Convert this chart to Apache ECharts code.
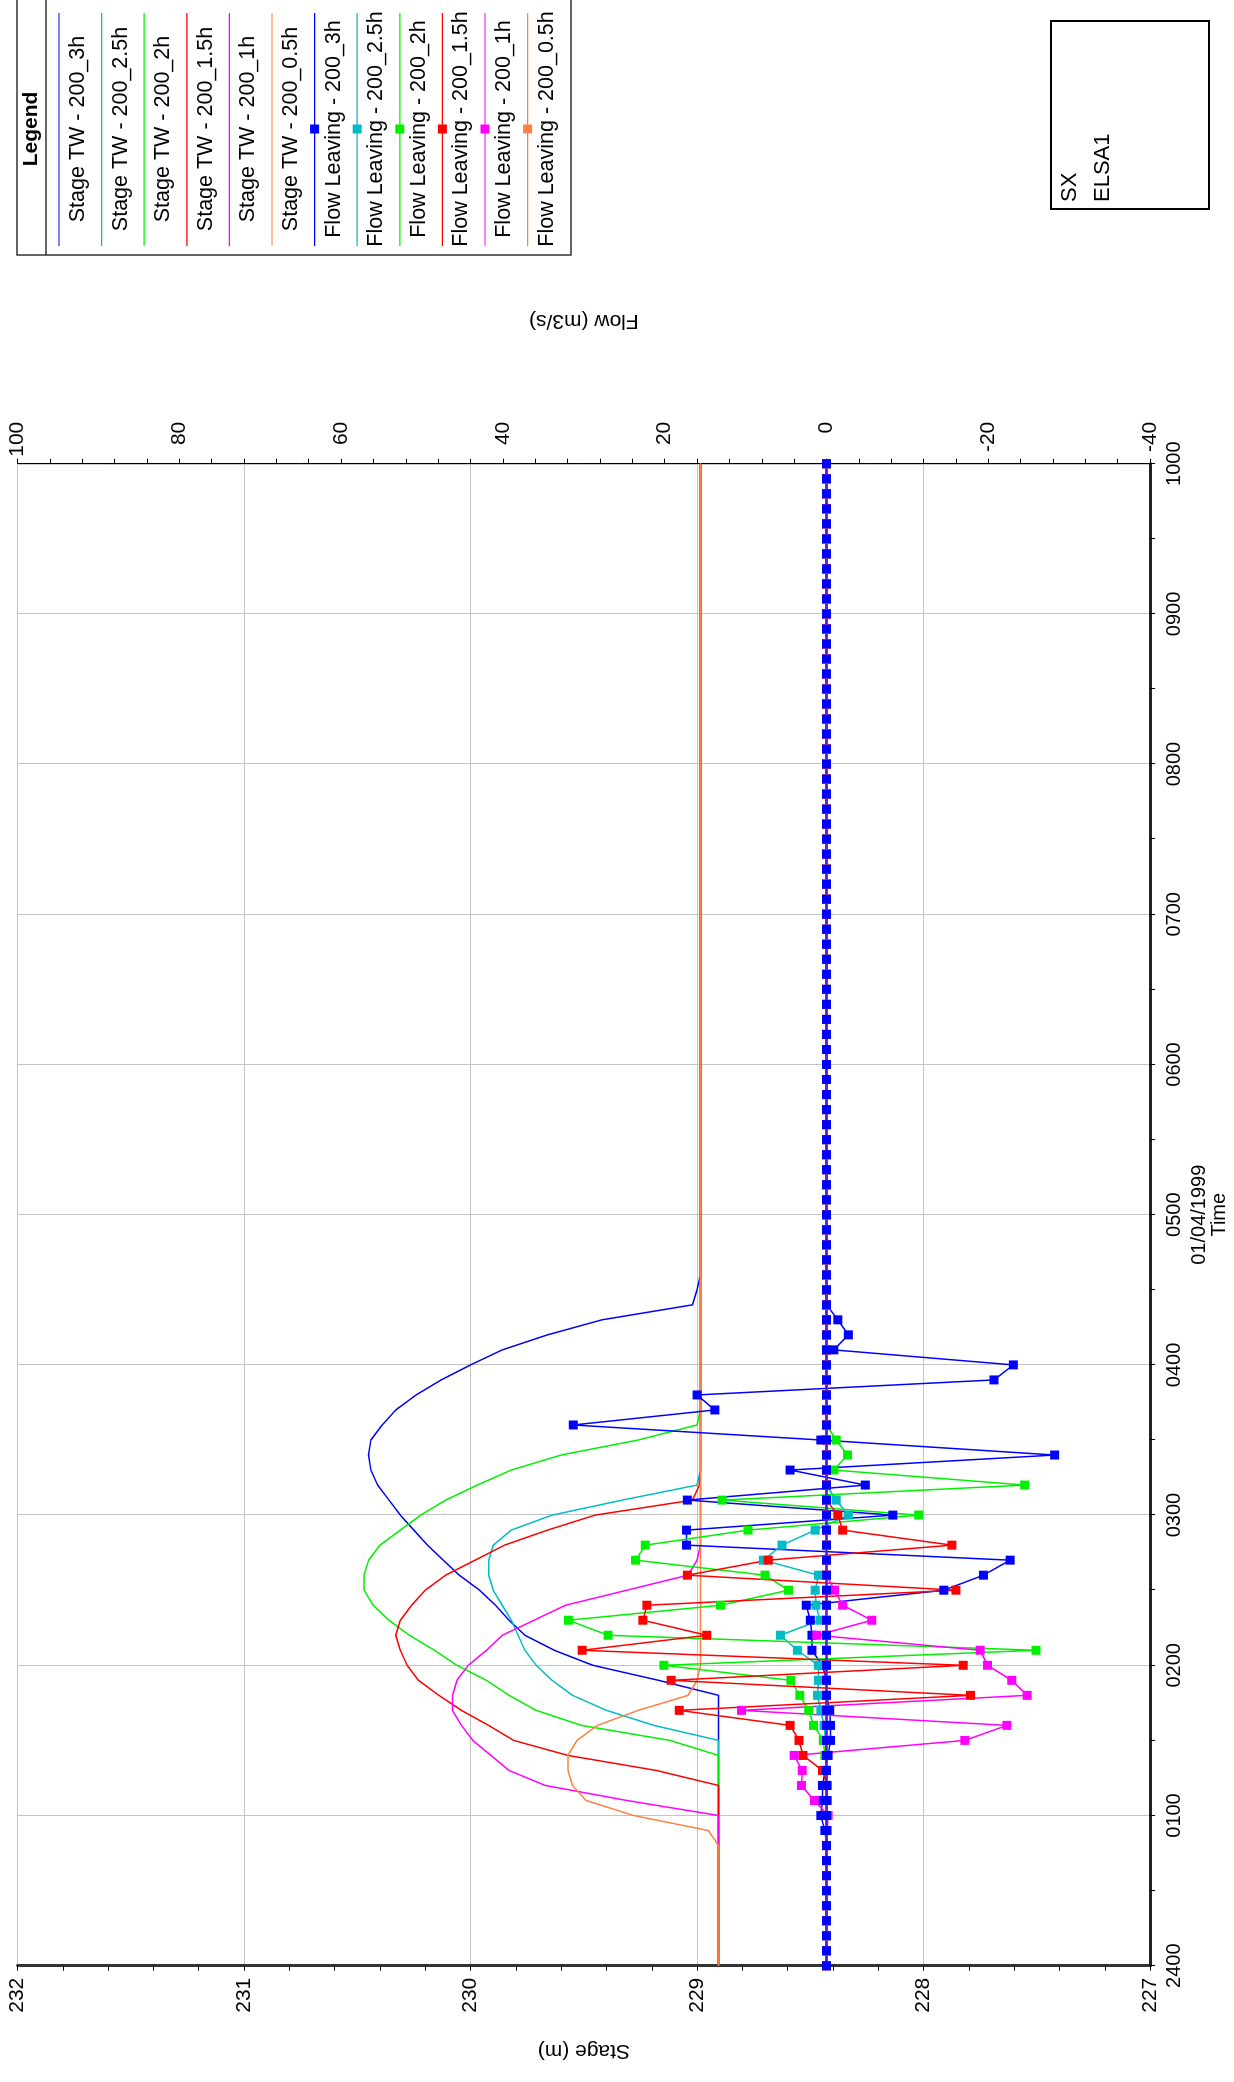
<!DOCTYPE html>
<html>
<head>
<meta charset="utf-8">
<script src="https://cdn.jsdelivr.net/npm/echarts/dist/echarts.min.js"></script>
<style>
html,body{margin:0;padding:0;background:#fff;}
body{width:1234px;height:2082px;overflow:hidden;position:relative;}
#chart{position:absolute;left:0;top:0;width:2082px;height:1234px;transform-origin:0 0;transform:translateY(2082px) rotate(-90deg);}
</style>
</head>
<body>
<div id="chart"></div>
<script>
// ---------------- DATA ----------------
const timeLabels = ['2400','0100','0200','0300','0400','0500','0600','0700','0800','0900','1000'];

// hours after 2400 on 01/04/1999 (6-minute steps)
const hours = [
0,0.1,0.2,0.3,0.4,0.5,0.6,0.7,0.8,0.9,
1,1.1,1.2,1.3,1.4,1.5,1.6,1.7,1.8,1.9,
2,2.1,2.2,2.3,2.4,2.5,2.6,2.7,2.8,2.9,
3,3.1,3.2,3.3,3.4,3.5,3.6,3.7,3.8,3.9,
4,4.1,4.2,4.3,4.4,4.5,4.6,4.7,4.8,4.9,
5,5.1,5.2,5.3,5.4,5.5,5.6,5.7,5.8,5.9,
6,6.1,6.2,6.3,6.4,6.5,6.6,6.7,6.8,6.9,
7,7.1,7.2,7.3,7.4,7.5,7.6,7.7,7.8,7.9,
8,8.1,8.2,8.3,8.4,8.5,8.6,8.7,8.8,8.9,
9,9.1,9.2,9.3,9.4,9.5,9.6,9.7,9.8,9.9,
10];

const stage_3h = [
228.905,228.905,228.905,228.905,228.905,228.905,228.905,228.905,228.905,228.905,
228.905,228.905,228.905,228.905,228.905,228.905,228.905,228.905,228.905,229.17,
229.46,229.63,229.76,229.83,229.89,229.96,230.05,230.12,230.19,230.25,
230.31,230.36,230.41,230.44,230.45,230.44,230.39,230.33,230.24,230.13,
230.00,229.86,229.66,229.42,229.02,229.00,228.985,228.985,228.985,228.985,
228.985,228.985,228.985,228.985,228.985,228.985,228.985,228.985,228.985,228.985,
228.985,228.985,228.985,228.985,228.985,228.985,228.985,228.985,228.985,228.985,
228.985,228.985,228.985,228.985,228.985,228.985,228.985,228.985,228.985,228.985,
228.985,228.985,228.985,228.985,228.985,228.985,228.985,228.985,228.985,228.985,
228.985,228.985,228.985,228.985,228.985,228.985,228.985,228.985,228.985,228.985,
228.985];

const stage_2_5h = [
228.905,228.905,228.905,228.905,228.905,228.905,228.905,228.905,228.905,228.905,
228.905,228.905,228.905,228.905,228.905,228.905,229.19,229.40,229.55,229.64,
229.71,229.76,229.79,229.82,229.86,229.90,229.92,229.92,229.90,229.82,
229.64,229.33,229.00,228.985,228.985,228.985,228.985,228.985,228.985,228.985,
228.985,228.985,228.985,228.985,228.985,228.985,228.985,228.985,228.985,228.985,
228.985,228.985,228.985,228.985,228.985,228.985,228.985,228.985,228.985,228.985,
228.985,228.985,228.985,228.985,228.985,228.985,228.985,228.985,228.985,228.985,
228.985,228.985,228.985,228.985,228.985,228.985,228.985,228.985,228.985,228.985,
228.985,228.985,228.985,228.985,228.985,228.985,228.985,228.985,228.985,228.985,
228.985,228.985,228.985,228.985,228.985,228.985,228.985,228.985,228.985,228.985,
228.985];

const stage_2h = [
228.905,228.905,228.905,228.905,228.905,228.905,228.905,228.905,228.905,228.905,
228.905,228.905,228.905,228.905,228.905,229.12,229.51,229.71,229.83,229.93,
230.06,230.16,230.27,230.36,230.43,230.47,230.47,230.45,230.40,230.31,
230.22,230.11,229.97,229.82,229.60,229.26,229.00,228.985,228.985,228.985,
228.985,228.985,228.985,228.985,228.985,228.985,228.985,228.985,228.985,228.985,
228.985,228.985,228.985,228.985,228.985,228.985,228.985,228.985,228.985,228.985,
228.985,228.985,228.985,228.985,228.985,228.985,228.985,228.985,228.985,228.985,
228.985,228.985,228.985,228.985,228.985,228.985,228.985,228.985,228.985,228.985,
228.985,228.985,228.985,228.985,228.985,228.985,228.985,228.985,228.985,228.985,
228.985,228.985,228.985,228.985,228.985,228.985,228.985,228.985,228.985,228.985,
228.985];

const stage_1_5h = [
228.905,228.905,228.905,228.905,228.905,228.905,228.905,228.905,228.905,228.905,
228.905,228.905,228.905,229.18,229.57,229.81,229.92,230.04,230.14,230.23,
230.28,230.31,230.33,230.31,230.26,230.20,230.11,229.98,229.85,229.66,
229.45,229.02,228.99,228.985,228.985,228.985,228.985,228.985,228.985,228.985,
228.985,228.985,228.985,228.985,228.985,228.985,228.985,228.985,228.985,228.985,
228.985,228.985,228.985,228.985,228.985,228.985,228.985,228.985,228.985,228.985,
228.985,228.985,228.985,228.985,228.985,228.985,228.985,228.985,228.985,228.985,
228.985,228.985,228.985,228.985,228.985,228.985,228.985,228.985,228.985,228.985,
228.985,228.985,228.985,228.985,228.985,228.985,228.985,228.985,228.985,228.985,
228.985,228.985,228.985,228.985,228.985,228.985,228.985,228.985,228.985,228.985,
228.985];

const stage_1h = [
228.905,228.905,228.905,228.905,228.905,228.905,228.905,228.905,228.905,228.905,
228.905,229.31,229.67,229.83,229.91,229.99,230.04,230.08,230.08,230.06,
230.01,229.93,229.86,229.72,229.58,229.31,229.04,229.00,228.985,228.985,
228.985,228.985,228.985,228.985,228.985,228.985,228.985,228.985,228.985,228.985,
228.985,228.985,228.985,228.985,228.985,228.985,228.985,228.985,228.985,228.985,
228.985,228.985,228.985,228.985,228.985,228.985,228.985,228.985,228.985,228.985,
228.985,228.985,228.985,228.985,228.985,228.985,228.985,228.985,228.985,228.985,
228.985,228.985,228.985,228.985,228.985,228.985,228.985,228.985,228.985,228.985,
228.985,228.985,228.985,228.985,228.985,228.985,228.985,228.985,228.985,228.985,
228.985,228.985,228.985,228.985,228.985,228.985,228.985,228.985,228.985,228.985,
228.985];

const stage_0_5h = [
228.905,228.905,228.905,228.905,228.905,228.905,228.905,228.905,228.905,228.95,
229.28,229.49,229.55,229.57,229.57,229.53,229.44,229.26,229.04,229.00,
228.985,228.985,228.985,228.985,228.985,228.985,228.985,228.985,228.985,228.985,
228.985,228.985,228.985,228.985,228.985,228.985,228.985,228.985,228.985,228.985,
228.985,228.985,228.985,228.985,228.985,228.985,228.985,228.985,228.985,228.985,
228.985,228.985,228.985,228.985,228.985,228.985,228.985,228.985,228.985,228.985,
228.985,228.985,228.985,228.985,228.985,228.985,228.985,228.985,228.985,228.985,
228.985,228.985,228.985,228.985,228.985,228.985,228.985,228.985,228.985,228.985,
228.985,228.985,228.985,228.985,228.985,228.985,228.985,228.985,228.985,228.985,
228.985,228.985,228.985,228.985,228.985,228.985,228.985,228.985,228.985,228.985,
228.985];

const flow_3h = [
0,0,0,0,0,0,0,0,0,0.2,
0.7,0.5,0.5,0.15,-0.2,-0.5,-0.5,-0.4,0,0,
0.5,1.8,1.8,2.0,2.5,-14.5,-19.4,-22.7,17.3,17.3,
-8.2,17.2,-4.8,4.5,-28.2,0.7,31.3,13.8,16.0,-20.7,
-23.1,-0.9,-2.7,-1.4,0,0,0,0,0,0,
0,0,0,0,0,0,0,0,0,0,
0,0,0,0,0,0,0,0,0,0,
0,0,0,0,0,0,0,0,0,0,
0,0,0,0,0,0,0,0,0,0,
0,0,0,0,0,0,0,0,0,0,
0];

const flow_2_5h = [
0,0,0,0,0,0,0,0,0,0,
0,0,0,0,0,0.1,0.3,0.7,1.1,1.0,
1.0,3.6,5.7,0.8,1.3,1.4,1.0,7.8,5.5,1.4,
-2.7,-1.2,0,0,0,0,0,0,0,0,
0,0,0,0,0,0,0,0,0,0,
0,0,0,0,0,0,0,0,0,0,
0,0,0,0,0,0,0,0,0,0,
0,0,0,0,0,0,0,0,0,0,
0,0,0,0,0,0,0,0,0,0,
0,0,0,0,0,0,0,0,0,0,
0];

const flow_2h = [
0,0,0,0,0,0,0,0,0,0,
0,0,0,0,0.2,0.4,1.6,2.2,3.3,4.4,
20.1,-25.9,27.0,31.9,13.1,4.7,7.6,23.6,22.4,9.7,
-11.4,12.9,-24.5,-0.9,-2.6,-1.2,0,0,0,0,
0,0,0,0,0,0,0,0,0,0,
0,0,0,0,0,0,0,0,0,0,
0,0,0,0,0,0,0,0,0,0,
0,0,0,0,0,0,0,0,0,0,
0,0,0,0,0,0,0,0,0,0,
0,0,0,0,0,0,0,0,0,0,
0];

const flow_1_5h = [
0,0,0,0,0,0,0,0,0,0,
0,-0.1,-0.1,0.5,2.9,3.4,4.5,18.2,-17.8,19.2,
-16.9,30.2,14.8,22.7,22.2,-16.0,17.2,7.2,-15.5,-2.0,
-1.4,0,0,0,0,0,0,0,0,0,
0,0,0,0,0,0,0,0,0,0,
0,0,0,0,0,0,0,0,0,0,
0,0,0,0,0,0,0,0,0,0,
0,0,0,0,0,0,0,0,0,0,
0,0,0,0,0,0,0,0,0,0,
0,0,0,0,0,0,0,0,0,0,
0];

const flow_1h = [
0,0,0,0,0,0,0,0,0,-0.1,
-0.2,1.5,3.1,3.0,4.0,-17.1,-22.3,10.5,-24.8,-22.9,
-19.9,-19.0,1.2,-5.6,-2.0,-1.0,0,0,0,0,
0,0,0,0,0,0,0,0,0,0,
0,0,0,0,0,0,0,0,0,0,
0,0,0,0,0,0,0,0,0,0,
0,0,0,0,0,0,0,0,0,0,
0,0,0,0,0,0,0,0,0,0,
0,0,0,0,0,0,0,0,0,0,
0,0,0,0,0,0,0,0,0,0,
0];

const flow_0_5h = [
0,0,0,0,0,0,0,0,0,0,
0,0,0,0,0,0,0,0,0,0,
0,0,0,0,0,0,0,0,0,0,
0,0,0,0,0,0,0,0,0,0,
0,0,0,0,0,0,0,0,0,0,
0,0,0,0,0,0,0,0,0,0,
0,0,0,0,0,0,0,0,0,0,
0,0,0,0,0,0,0,0,0,0,
0,0,0,0,0,0,0,0,0,0,
0,0,0,0,0,0,0,0,0,0,
0];

// additional zero-flow trace drawn on top (blue squares along 0)
const flow_base = [
0,0,0,0,0,0,0,0,0,0,
0,0,0,0,0,0,0,0,0,0,
0,0,0,0,0,0,0,0,0,0,
0,0,0,0,0,0,0,0,0,0,
0,0,0,0,0,0,0,0,0,0,
0,0,0,0,0,0,0,0,0,0,
0,0,0,0,0,0,0,0,0,0,
0,0,0,0,0,0,0,0,0,0,
0,0,0,0,0,0,0,0,0,0,
0,0,0,0,0,0,0,0,0,0,
0];

const stageNames = ['Stage TW - 200_3h','Stage TW - 200_2.5h','Stage TW - 200_2h','Stage TW - 200_1.5h','Stage TW - 200_1h','Stage TW - 200_0.5h'];
const flowNames  = ['Flow Leaving - 200_3h','Flow Leaving - 200_2.5h','Flow Leaving - 200_2h','Flow Leaving - 200_1.5h','Flow Leaving - 200_1h','Flow Leaving - 200_0.5h'];
const stageData  = [stage_3h, stage_2_5h, stage_2h, stage_1_5h, stage_1h, stage_0_5h];
const flowData   = [flow_3h, flow_2_5h, flow_2h, flow_1_5h, flow_1h, flow_0_5h];
const seriesColors = ['#0000ff','#00bcc4','#00f000','#ff0000','#ff00ff','#ff8040'];
const infoLines = ['SX','ELSA1'];

// ---------------- CHART ----------------
const FONT = 'Liberation Sans, Arial, sans-serif';
const el = document.getElementById('chart');
const chart = echarts.init(el, null, {renderer:'canvas', width:2082, height:1234});

const pairs = arr => hours.map((h,i)=>[h, arr[i]]);

const series = [];
stageData.forEach((arr,i)=>{
  series.push({name:stageNames[i], type:'line', yAxisIndex:0, data:pairs(arr),
    showSymbol:false, symbol:'none', lineStyle:{color:seriesColors[i], width:1.5},
    itemStyle:{color:seriesColors[i]}, silent:true});
});
flowData.forEach((arr,i)=>{
  series.push({name:flowNames[i], type:'line', yAxisIndex:1, data:pairs(arr),
    showSymbol:true, showAllSymbol:true, symbol:'rect', symbolSize:9,
    lineStyle:{color:seriesColors[i], width:1.5},
    itemStyle:{color:seriesColors[i], borderWidth:0}, silent:true});
});
series.push({name:'', type:'line', yAxisIndex:1, data:pairs(flow_base),
  showSymbol:true, showAllSymbol:true, symbol:'rect', symbolSize:9,
  lineStyle:{color:'#5a18cc', width:2.5},
  itemStyle:{color:'#0000ff', borderWidth:0}, silent:true});

// legend & info box drawn as graphics (unrotated frame coordinates)
const graphics = [];
const LG_U0 = 1827, LG_U1 = 2090, LG_V0 = 17, LG_V1 = 571;
graphics.push({type:'rect', shape:{x:LG_U0, y:LG_V0, width:LG_U1-LG_U0, height:LG_V1-LG_V0},
  style:{fill:'#fff', stroke:'#333', lineWidth:1.5}, z:100});
graphics.push({type:'line', shape:{x1:LG_U0, y1:46, x2:LG_U1, y2:46}, style:{stroke:'#333', lineWidth:1.5}, z:101});
graphics.push({type:'text', z:101, style:{text:'Legend', x:1953, y:31, font:'bold 21px '+FONT,
  textAlign:'center', textVerticalAlign:'middle', align:'center', verticalAlign:'middle', fill:'#000'}});
const allNames = stageNames.concat(flowNames);
allNames.forEach((nm,i)=>{
  const v = 59 + 42.6*i;
  const c = seriesColors[i % 6];
  graphics.push({type:'line', z:101, shape:{x1:1836, y1:v, x2:2069, y2:v}, style:{stroke:c, lineWidth:1.2}});
  if (i >= 6) {
    graphics.push({type:'rect', z:102, shape:{x:1953-4.5, y:v-4.5, width:9, height:9}, style:{fill:c}});
  }
  graphics.push({type:'text', z:101, style:{text:nm, x:1953, y:v+19, font:'21.5px '+FONT,
    textAlign:'center', textVerticalAlign:'middle', align:'center', verticalAlign:'middle', fill:'#000'}});
});
graphics.push({type:'rect', z:100, shape:{x:1873, y:1051, width:188, height:158},
  style:{fill:'#fff', stroke:'#000', lineWidth:2}});
infoLines.forEach((t,i)=>{
  graphics.push({type:'text', z:101, style:{text:t, x:1880, y:1070+33*i, font:'22px '+FONT,
    textAlign:'left', textVerticalAlign:'middle', align:'left', verticalAlign:'middle', fill:'#000'}});
});

const tickStyle = {color:'#000', width:1};
const option = {
  animation:false,
  backgroundColor:'#fff',
  textStyle:{fontFamily:FONT},
  grid:{left:116.3, top:17.5, width:1502, height:1143, show:true, borderColor:'#000', borderWidth:1, backgroundColor:'transparent'},
  xAxis:{type:'value', min:0, max:10, interval:1, position:'bottom',
    axisLine:{show:true, onZero:false, lineStyle:{color:'#222', width:3}},
    axisTick:{show:true, length:5, lineStyle:tickStyle},
    minorTick:{show:true, splitNumber:2, length:5, lineStyle:tickStyle},
    axisLabel:{formatter:v=>timeLabels[Math.round(v)], fontSize:20, color:'#000', margin:14, fontFamily:FONT},
    splitLine:{show:true, lineStyle:{color:'#c4c4c4', width:1}},
    name:'01/04/1999\nTime', nameLocation:'middle', nameGap:37,
    nameTextStyle:{fontSize:20, lineHeight:20, color:'#000', fontFamily:FONT}},
  yAxis:[
    {type:'value', min:227, max:232, interval:1, position:'left',
      axisLine:{show:true, onZero:false, lineStyle:{color:'#333', width:3}},
      axisTick:{show:true, length:5, lineStyle:tickStyle},
      minorTick:{show:true, splitNumber:5, length:5, lineStyle:tickStyle},
      axisLabel:{fontSize:21, color:'#000', margin:12, fontFamily:FONT},
      splitLine:{show:true, lineStyle:{color:'#c4c4c4', width:1}},
      name:'Stage (m)', nameLocation:'middle', nameRotate:90, nameGap:75,
      nameTextStyle:{fontSize:21, color:'#000', fontFamily:FONT}},
    {type:'value', min:-40, max:100, interval:20, position:'right',
      axisLine:{show:true, onZero:false, lineStyle:{color:'#000', width:1}},
      axisTick:{show:true, length:5, lineStyle:tickStyle},
      minorTick:{show:true, splitNumber:5, length:5, lineStyle:tickStyle},
      axisLabel:{fontSize:21, color:'#000', margin:42, align:'right', fontFamily:FONT},
      splitLine:{show:false},
      name:'Flow (m3/s)', nameLocation:'middle', nameRotate:90, nameGap:132,
      nameTextStyle:{fontSize:21, color:'#000', fontFamily:FONT}}
  ],
  series:series,
  graphic:graphics
};
chart.setOption(option);
</script>
</body>
</html>
